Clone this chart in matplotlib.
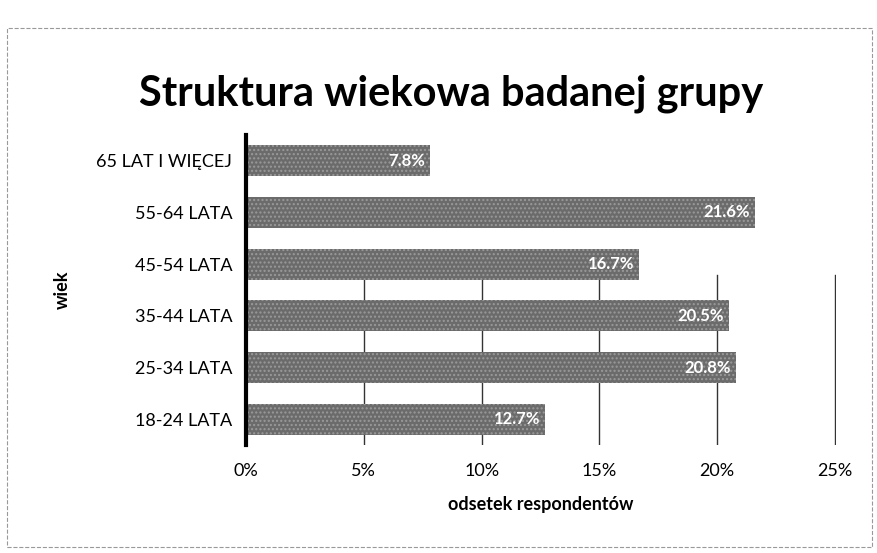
import matplotlib.pyplot as plt
from matplotlib.patches import Rectangle

# dane
kategorie = ['18-24 LATA', '25-34 LATA', '35-44 LATA', '45-54 LATA', '55-64 LATA', '65 LAT I WIĘCEJ']
odsetek = [12.7, 20.8, 20.5, 16.7, 21.6, 7.8]
etykiety = ['12.7%', '20.8%', '20.5%', '16.7%', '21.6%', '7.8%']
ticki = [0, 5, 10, 15, 20, 25]
tick_labels = ['0%', '5%', '10%', '15%', '20%', '25%']

plt.rcParams['font.family'] = ['Lato', 'DejaVu Sans']

fig = plt.figure(figsize=(8.77, 5.53), dpi=100)
ax = fig.add_axes([0.2805, 0.195, 0.673, 0.561])

ax.barh(range(len(kategorie)), odsetek, height=0.6, color='#6b6b6b',
        edgecolor='#9a9a9a', hatch='....', linewidth=0, zorder=2)
for i, (v, t) in enumerate(zip(odsetek, etykiety)):
    ax.text(v - 0.2, i, t, ha='right', va='center',
            color='white', fontsize=12, fontweight='bold', zorder=3)

ax.set_xlim(0, 25.05)
ax.set_ylim(-0.5, len(kategorie) - 0.5)
ax.set_yticks(range(len(kategorie)))
ax.set_yticklabels(kategorie, fontsize=13)
ax.set_xticks(ticki)
ax.set_xticklabels(tick_labels, fontsize=13)
ax.tick_params(axis='both', length=0)
ax.tick_params(axis='x', pad=13)
ax.tick_params(axis='y', pad=10)
for x in ticki[1:]:
    ax.axvline(x, color='#333333', lw=1, ymax=0.55, zorder=1)

for s in ['top', 'right', 'bottom']:
    ax.spines[s].set_visible(False)
ax.spines['left'].set_linewidth(3)

ax.set_xlabel('odsetek respondentów', fontsize=13, fontweight='bold', labelpad=12)
ax.set_ylabel('wiek', fontsize=13, fontweight='bold', labelpad=18)

fig.text(0.514, 0.83, 'Struktura wiekowa badanej grupy', ha='center', va='center',
         fontsize=30, fontweight='bold')

fig.patches.append(Rectangle((0.008, 0.01), 0.986, 0.94, transform=fig.transFigure,
                             fill=False, edgecolor='#999999', lw=0.8, ls='--'))

fig.savefig('out.png', dpi=100)
